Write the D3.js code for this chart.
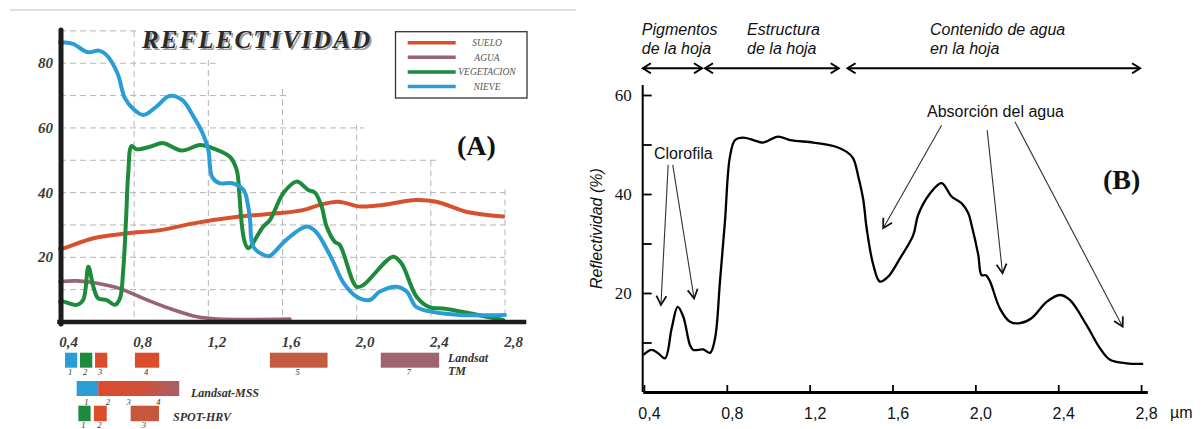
<!DOCTYPE html>
<meta charset="utf-8">
<style>
body { margin: 0; background: #fff; }
svg { display: block; }
.serif { font-family: "Liberation Serif", "DejaVu Serif", serif; }
.sans { font-family: "Liberation Sans", Arial, sans-serif; }
</style>
<body>
<script src="https://d3js.org/d3.v7.min.js"></script>
<script>
var width = 1203,
    height = 429;

// ---------- panel A : wavelength (µm), reflectance (%) ----------
var suelo = [[0.40,22.6],[0.42,22.8],[0.58,25.9],[0.76,27.4],[0.94,28.4],[1.12,30.5],[1.37,32.6],
  [1.57,33.6],[1.71,34.6],[1.80,36.2],[1.90,37.2],[2.02,35.7],[2.14,36.2],[2.32,37.7],[2.43,37.2],
  [2.59,34.1],[2.79,32.6]];
var agua = [[0.40,12.5],[0.49,12.7],[0.60,12.0],[0.72,10.4],[0.85,7.3],[0.99,4.2],[1.14,1.6],
  [1.25,0.9],[1.64,0.9]];
var vegetacion = [[0.40,6.3],[0.42,6.3],[0.49,5.3],[0.525,6.8],[0.553,17.1],[0.58,10.9],[0.606,7.3],
  [0.652,6.8],[0.696,5.3],[0.723,7.3],[0.741,16.1],[0.756,31.5],[0.768,46],[0.786,54.4],[0.813,53.4],
  [0.885,54.2],[0.957,55.3],[1.056,53.0],[1.155,54.7],[1.226,53.7],[1.316,51.1],[1.353,47.0],
  [1.367,39.8],[1.378,31.5],[1.395,25],[1.415,22.8],[1.496,29.5],[1.532,31.5],[1.604,39.8],
  [1.676,43.4],[1.739,40.8],[1.775,40.0],[1.811,35.7],[1.838,29.5],[1.882,24.8],[1.909,23.8],
  [1.999,10.9],[2.035,11.4],[2.197,20.2],[2.242,18.1],[2.323,7.8],[2.395,4.5],[2.466,4.2],[2.79,0.6]];
var nieve = [[0.40,86.4],[0.42,86.4],[0.47,86.0],[0.55,83.4],[0.61,83.9],[0.65,82.6],[0.71,76.9],
  [0.75,69.2],[0.80,65.6],[0.85,64.0],[0.92,66.6],[0.99,69.9],[1.06,68.6],[1.12,63.5],[1.17,58.3],
  [1.20,53.2],[1.22,44.9],[1.26,42.9],[1.33,42.9],[1.39,40.8],[1.415,35.7],[1.425,31.5],[1.442,23.3],
  [1.50,20.7],[1.53,20.4],[1.62,25.4],[1.73,29.5],[1.78,27.9],[1.86,20.2],[1.93,12.0],[2.00,7.8],
  [2.07,6.8],[2.125,9.4],[2.215,10.9],[2.27,9.4],[2.32,4.7],[2.40,3.2],[2.56,2.2],[2.80,2.2]];
var seriesNames = ["SUELO", "AGUA", "VEGETACION", "NIEVE"];

var xTicksA = [0.4, 0.8, 1.2, 1.6, 2.0, 2.4, 2.8];
var yTicksA = [20, 40, 60, 80];
// staircase grid: horizontal level -> wavelength where it stops; vertical wavelength -> level where it starts
var gridLevels = [90, 80, 70, 60, 50, 40, 30, 20, 10];
var gridLevelEnds = [0.83, 1.24, 1.64, 2.04, 2.44, 2.8, 2.8, 2.8, 2.8];
var gridWaves = [0.8, 1.2, 1.6, 2.0, 2.4, 2.8];
var gridWaveTops = [90, 81, 72, 61, 50, 41];

// sensor bands [number, from µm, to µm]
var tmBands = [["1",0.427,0.493],["2",0.508,0.574],["3",0.589,0.655],["4",0.804,0.935],["5",1.532,1.843],["7",2.13,2.445]];
var mssBands = [["1",0.49,0.606],["2",0.606,0.72],["3",0.72,0.83],["4",0.83,1.043]];
var spotBands = [["1",0.499,0.565],["2",0.583,0.652],["3",0.781,0.934]];

// ---------- panel B : green leaf ----------
var hoja = [[0.397,7.5],[0.437,8.5],[0.469,7.8],[0.502,6.8],[0.534,12.9],[0.563,17.2],[0.59,15.2],
  [0.622,9.5],[0.638,8.5],[0.686,8.6],[0.719,7.9],[0.743,10.8],[0.767,22.3],[0.791,34.4],[0.815,47.5],
  [0.84,50.9],[0.88,51.4],[0.928,50.9],[0.976,50.4],[1.048,51.6],[1.105,50.9],[1.217,50.4],[1.314,49.7],
  [1.379,48.5],[1.41,47.2],[1.435,43.5],[1.459,38.8],[1.475,33.1],[1.507,25.7],[1.539,22.3],[1.579,23.3],
  [1.636,27.0],[1.70,31.7],[1.724,35.8],[1.781,40.1],[1.837,42.2],[1.885,39.5],[1.934,38.1],[1.966,36.1],
  [1.982,33.7],[2.014,27.7],[2.03,23.6],[2.051,23.6],[2.071,22.3],[2.118,16.9],[2.167,14.2],[2.215,13.9],
  [2.271,14.9],[2.344,18.2],[2.408,19.6],[2.456,18.6],[2.537,13.5],[2.602,8.8],[2.65,6.5],[2.73,5.8],[2.81,5.7]];
var xTicksB = [0.4, 0.8, 1.2, 1.6, 2.0, 2.4, 2.8];
var yTicksB = [10, 20, 30, 40, 50, 60];
var yLabelsB = [20, 40, 60];
// [line 1, line 2, arrow from, arrow to, text start] (µm)
var regiones = [["Pigmentos", "de la hoja", 0.39, 0.685, 0.39],
                ["Estructura", "de la hoja", 0.69, 1.345, 0.898],
                ["Contenido de agua", "en la hoja", 1.378, 2.80, 1.781]];
// annotation arrows [from µm, from %, to µm, to %]
var clorofilaArrows = [[0.517,45.9,0.482,17.6],[0.539,45.9,0.642,18.9]];
var aguaArrows = [[1.837,53.9,1.555,33.1],[2.057,52.9,2.131,24.0],[2.191,54.6,2.711,13.2]];

var svg = d3.select("body").append("svg")
    .attr("width", width)
    .attr("height", height);

svg.append("rect").attr("width", width).attr("height", height).attr("fill", "#fff");

// ================= PANEL A =================
var xA = d3.scaleLinear().domain([0.4, 2.8]).range([60, 505]);
var yA = d3.scaleLinear().domain([0, 90]).range([322, 30.9]);
var colorsA = { SUELO: "#d8512f", AGUA: "#9a6374", VEGETACION: "#1e8b3c", NIEVE: "#2a9dd7" };

var gA = svg.append("g");

// scan border
gA.append("line").attr("x1", 10).attr("x2", 576).attr("y1", 10).attr("y2", 10)
  .attr("stroke", "#d4d4d4").attr("stroke-width", 1.5);

var grid = gA.append("g").attr("stroke", "#b5b5b5").attr("stroke-width", 1)
  .attr("stroke-dasharray", "6,4").attr("fill", "none");
gridLevels.forEach(function(l, i) {
  grid.append("line").attr("x1", xA(0.4)).attr("x2", xA(gridLevelEnds[i]))
    .attr("y1", yA(l)).attr("y2", yA(l));
});
gridWaves.forEach(function(w, i) {
  grid.append("line").attr("x1", xA(w)).attr("x2", xA(w))
    .attr("y1", yA(gridWaveTops[i])).attr("y2", yA(0));
});

// title
gA.append("text").attr("class", "serif").attr("x", 144).attr("y", 49.8)
  .attr("font-size", 25).attr("font-weight", "bold").attr("font-style", "italic")
  .attr("letter-spacing", 2.1).attr("fill", "#9a9a9a").text("REFLECTIVIDAD");
gA.append("text").attr("class", "serif").attr("x", 142).attr("y", 48)
  .attr("font-size", 25).attr("font-weight", "bold").attr("font-style", "italic")
  .attr("letter-spacing", 2.1).attr("fill", "#2a2a2a").text("REFLECTIVIDAD");

// axes
var axA = gA.append("g").attr("transform", "translate(0," + yA(0) + ")")
  .call(d3.axisBottom(xA).tickValues(xTicksA).tickSize(0).tickPadding(14)
    .tickFormat(function(d) { return d.toFixed(1).replace(".", ","); }));
axA.select(".domain").remove();
axA.selectAll("text").attr("class", "serif").attr("dx", 8)
  .attr("font-size", 15).attr("font-weight", "bold").attr("font-style", "italic").attr("fill", "#3a3a3a");

var ayA = gA.append("g").attr("transform", "translate(53,0)")
  .call(d3.axisLeft(yA).tickValues(yTicksA).tickSize(0).tickPadding(0));
ayA.select(".domain").remove();
ayA.selectAll("text").attr("class", "serif").attr("dy", "0.3em")
  .attr("font-size", 15).attr("font-weight", "bold").attr("font-style", "italic").attr("fill", "#3a3a3a");

var lineA = d3.line().x(function(d) { return xA(d[0]); }).y(function(d) { return yA(d[1]); })
  .curve(d3.curveCatmullRom.alpha(0.5));

var seriesA = [suelo, agua, vegetacion, nieve];
gA.append("g").selectAll("path")
  .data(seriesA)
  .enter().append("path")
  .attr("d", lineA)
  .attr("fill", "none")
  .attr("stroke", function(d, i) { return colorsA[seriesNames[i]]; })
  .attr("stroke-width", function(d, i) { return i === 1 ? 3.6 : 4; })
  .attr("stroke-linejoin", "round").attr("stroke-linecap", "round");

// thick axis lines
gA.append("line").attr("x1", xA(0.385)).attr("x2", xA(2.915)).attr("y1", yA(0)).attr("y2", yA(0))
  .attr("stroke", "#1c1c1c").attr("stroke-width", 4.5);
gA.append("line").attr("x1", xA(0.4) + 1).attr("x2", xA(0.4) + 1).attr("y1", yA(90.3)).attr("y2", yA(0) + 2)
  .attr("stroke", "#1c1c1c").attr("stroke-width", 5).attr("stroke-linecap", "round");

// legend
var leg = gA.append("g");
leg.append("rect").attr("x", 395.5).attr("y", 31.7).attr("width", 131.5).attr("height", 66.3)
  .attr("fill", "#fff").attr("stroke", "#333").attr("stroke-width", 1.3);
seriesNames.forEach(function(n, i) {
  var y = 42.7 + i * 14.6;
  leg.append("line").attr("x1", 407.7).attr("x2", 455.7).attr("y1", y).attr("y2", y)
    .attr("stroke", colorsA[n]).attr("stroke-width", 3.5);
  leg.append("text").attr("class", "serif").attr("x", 487).attr("y", y + 3.2)
    .attr("text-anchor", "middle").attr("font-size", 9.5).attr("font-style", "italic")
    .attr("fill", "#555").text(n);
});

gA.append("text").attr("class", "serif").attr("x", 457).attr("y", 155)
  .attr("font-size", 28).attr("font-weight", "bold").attr("fill", "#111").text("(A)");

// sensor bands
var tmColors = ["#2a9dd7", "#1e8b3c", "#dc4d2c", "#dc4d2c", "#c45a40", "#a0646f"];
var defs = svg.append("defs");
var grad = defs.append("linearGradient").attr("id", "mssGrad");
grad.append("stop").attr("offset", "0%").attr("stop-color", "#dc4b2b");
grad.append("stop").attr("offset", "55%").attr("stop-color", "#cf5136");
grad.append("stop").attr("offset", "100%").attr("stop-color", "#a5606a");

function bandRow(bands, y0, h, fills, labY) {
  var g = gA.append("g");
  g.selectAll("rect").data(bands).enter().append("rect")
    .attr("x", function(d) { return xA(d[1]); })
    .attr("width", function(d) { return xA(d[2]) - xA(d[1]); })
    .attr("y", y0).attr("height", h)
    .attr("fill", function(d, i) { return fills[i]; });
  g.selectAll("text").data(bands).enter().append("text")
    .attr("class", "serif")
    .attr("x", function(d) { return xA((d[1] + d[2]) / 2) - 1; })
    .attr("y", labY).attr("text-anchor", "middle")
    .attr("font-size", 8.5).attr("font-style", "italic").attr("fill", "#333")
    .text(function(d) { return d[0]; });
}
bandRow(tmBands, 352.7, 15, tmColors, 375);
// MSS: blue band then one continuous red-to-mauve bar
gA.append("rect").attr("x", xA(mssBands[1][1])).attr("width", xA(mssBands[3][2]) - xA(mssBands[1][1]))
  .attr("y", 381).attr("height", 15).attr("fill", "url(#mssGrad)");
bandRow(mssBands.slice(0, 1), 381, 15, ["#2a9dd7"], 404.5);
gA.append("g").selectAll("text").data(mssBands.slice(1)).enter().append("text")
  .attr("class", "serif")
  .attr("x", function(d) { return xA((d[1] + d[2]) / 2) - 1; })
  .attr("y", 404.5).attr("text-anchor", "middle")
  .attr("font-size", 8.5).attr("font-style", "italic").attr("fill", "#333")
  .text(function(d) { return d[0]; });
bandRow(spotBands, 405.7, 15.5, ["#1e8b3c", "#dc4d2c", "#c6573c"], 428);

function bandLabel(x, y, t) {
  gA.append("text").attr("class", "serif").attr("x", x).attr("y", y)
    .attr("font-size", 12).attr("font-weight", "bold").attr("font-style", "italic")
    .attr("fill", "#333").text(t);
}
bandLabel(448, 362, "Landsat");
bandLabel(448, 374.5, "TM");
bandLabel(191, 397, "Landsat-MSS");
bandLabel(173, 421, "SPOT-HRV");

// ================= PANEL B =================
var xB = d3.scaleLinear().domain([0.394, 2.83]).range([642.7, 1147.3]);
var yB = d3.scaleLinear().domain([0, 60]).range([392, 95]);
var gB = svg.append("g");

var mk = defs.append("marker").attr("id", "chev").attr("markerUnits", "userSpaceOnUse")
  .attr("viewBox", "-10 -6 12 12").attr("refX", 0).attr("refY", 0)
  .attr("markerWidth", 12).attr("markerHeight", 12).attr("orient", "auto-start-reverse");
mk.append("path").attr("d", "M-8,-5 L0,0 L-8,5").attr("fill", "none")
  .attr("stroke", "#000").attr("stroke-width", 2);
var mk2 = defs.append("marker").attr("id", "chevThin").attr("markerUnits", "userSpaceOnUse")
  .attr("viewBox", "-12 -7 14 14").attr("refX", 0).attr("refY", 0)
  .attr("markerWidth", 14).attr("markerHeight", 14).attr("orient", "auto");
mk2.append("path").attr("d", "M-9,-5 L0,0 L-9,5").attr("fill", "none")
  .attr("stroke", "#111").attr("stroke-width", 1.8);

// region headers
var arrowY = yB(65.4);
regiones.forEach(function(r) {
  gB.append("line").attr("x1", xB(r[2]) + 1).attr("x2", xB(r[3]) - 1)
    .attr("y1", arrowY).attr("y2", arrowY)
    .attr("stroke", "#000").attr("stroke-width", 2.2)
    .attr("marker-start", "url(#chev)").attr("marker-end", "url(#chev)");
  var t = gB.append("text").attr("class", "sans").attr("font-size", 16)
    .attr("font-style", "italic").attr("fill", "#111");
  t.append("tspan").attr("x", xB(r[4])).attr("y", 34.5).text(r[0]);
  t.append("tspan").attr("x", xB(r[4])).attr("y", 53.5).text(r[1]);
});

// axes
var ayB = gB.append("g").attr("transform", "translate(" + xB(0.394) + ",0)")
  .call(d3.axisLeft(yB).tickValues(yTicksB).tickSize(-9).tickPadding(11)
    .tickFormat(function(d) { return yLabelsB.indexOf(d) >= 0 ? d : ""; }));
ayB.select(".domain").attr("d", "M0," + yB(62) + "V" + yB(0)).attr("stroke-width", 2);
ayB.selectAll(".tick line").attr("stroke-width", 1.8);
ayB.selectAll("text").attr("class", "serif").attr("font-size", 17).attr("fill", "#111");

var axB = gB.append("g").attr("transform", "translate(0," + yB(0) + ")")
  .call(d3.axisBottom(xB).tickValues(xTicksB).tickSize(-7).tickSizeOuter(0).tickPadding(16)
    .tickFormat(function(d) { return d.toFixed(1).replace(".", ","); }));
axB.select(".domain").attr("stroke-width", 3);
axB.selectAll(".tick line").attr("stroke-width", 1.8);
axB.selectAll("text").attr("class", "sans").attr("dx", 5).attr("font-size", 16).attr("fill", "#111");

gB.append("text").attr("class", "sans").attr("x", 1170).attr("y", 418)
  .attr("font-size", 16).attr("fill", "#111").text("µm");

gB.append("text").attr("class", "sans")
  .attr("transform", "translate(602," + yB(33) + ") rotate(-90)")
  .attr("text-anchor", "middle").attr("font-size", 16).attr("font-style", "italic")
  .attr("fill", "#111").text("Reflectividad (%)");

var lineB = d3.line().x(function(d) { return xB(d[0]); }).y(function(d) { return yB(d[1]); })
  .curve(d3.curveCatmullRom.alpha(0.5));
gB.append("path").datum(hoja).attr("d", lineB).attr("fill", "none")
  .attr("stroke", "#000").attr("stroke-width", 2.3).attr("stroke-linejoin", "round");

// annotations
gB.append("text").attr("class", "sans").attr("x", 654).attr("y", 158.5)
  .attr("font-size", 16).attr("fill", "#111").text("Clorofila");
gB.append("text").attr("class", "sans").attr("x", 927).attr("y", 117)
  .attr("font-size", 16).attr("fill", "#111").text("Absorción del agua");

gB.append("g").selectAll("line").data(clorofilaArrows.concat(aguaArrows)).enter().append("line")
  .attr("x1", function(d) { return xB(d[0]); }).attr("y1", function(d) { return yB(d[1]); })
  .attr("x2", function(d) { return xB(d[2]); }).attr("y2", function(d) { return yB(d[3]); })
  .attr("stroke", "#333").attr("stroke-width", 1.1)
  .attr("marker-end", "url(#chevThin)");

gB.append("text").attr("class", "serif").attr("x", 1103).attr("y", 189)
  .attr("font-size", 28).attr("font-weight", "bold").attr("fill", "#111").text("(B)");
</script>
</body>
